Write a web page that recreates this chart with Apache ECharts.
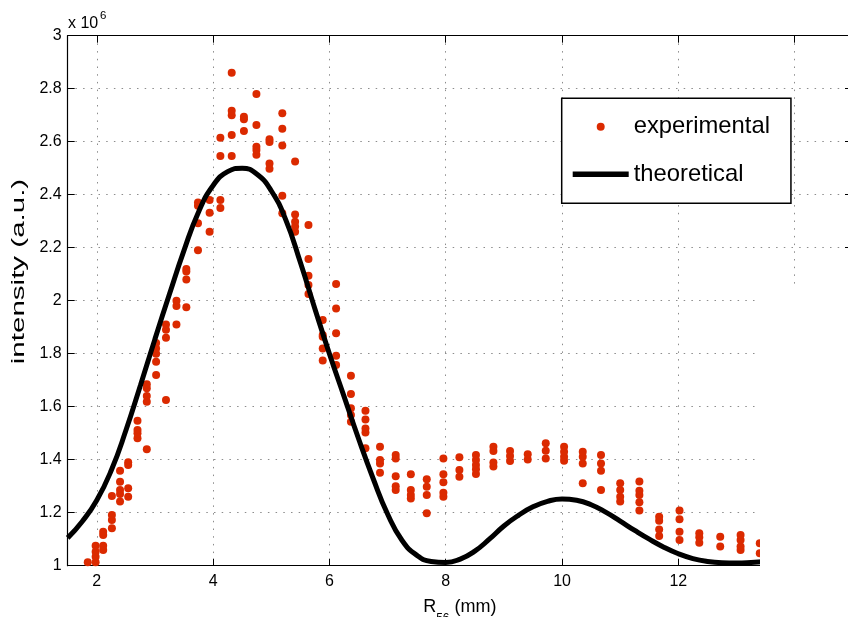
<!DOCTYPE html>
<html>
<head>
<meta charset="utf-8">
<script src="https://cdn.jsdelivr.net/npm/echarts@6/dist/echarts.min.js"></script>
<style>html,body{margin:0;padding:0;background:#fff}#chart{width:848px;height:617px}</style>
</head>
<body>
<div id="chart"></div>
<script>
// ---- data (intensity in units of 10^6) ----
const xTickValues = [2, 4, 6, 8, 10, 12, 14];
const yTickLabels = ['1', '1.2', '1.4', '1.6', '1.8', '2', '2.2', '2.4', '2.6', '2.8', '3'];

const expX = [
  1.845,
  1.98, 1.98, 1.98, 1.98,
  2.11, 2.11, 2.11, 2.11,
  2.26, 2.26, 2.26, 2.26,
  2.40, 2.40, 2.40, 2.40, 2.40,
  2.54, 2.54, 2.54, 2.54,
  2.70, 2.70, 2.70, 2.70,
  2.86, 2.86, 2.86, 2.86, 2.86,
  3.02, 3.02, 3.02, 3.02, 3.02,
  3.19, 3.19, 3.19, 3.19,
  3.37, 3.37, 3.37,
  3.54, 3.54, 3.54, 3.54,
  3.74, 3.74, 3.74, 3.74,
  3.94, 3.94, 3.94,
  4.125, 4.125, 4.125, 4.125,
  4.32, 4.32, 4.32, 4.32, 4.32,
  4.53, 4.53, 4.53,
  4.745, 4.745, 4.745, 4.745, 4.745,
  4.97, 4.97, 4.97, 4.97,
  5.19, 5.19, 5.19, 5.19, 5.19,
  5.41, 5.41, 5.41, 5.41, 5.41,
  5.64, 5.64, 5.64, 5.64, 5.64,
  5.885, 5.885, 5.885, 5.885, 5.885,
  6.115, 6.115, 6.115, 6.115, 6.115,
  6.37, 6.37, 6.37, 6.37, 6.37,
  6.62, 6.62, 6.62, 6.62, 6.62,
  6.87, 6.87, 6.87, 6.87,
  7.14, 7.14, 7.14, 7.14, 7.14,
  7.40, 7.40, 7.40, 7.40,
  7.674, 7.674, 7.674, 7.674,
  7.96, 7.96, 7.96, 7.96, 7.96,
  8.235, 8.235, 8.235,
  8.52, 8.52, 8.52, 8.52, 8.52,
  8.82, 8.82, 8.82, 8.82,
  9.106, 9.106, 9.106,
  9.41, 9.41,
  9.72, 9.72, 9.72,
  10.035, 10.035, 10.035, 10.035,
  10.356, 10.356, 10.356, 10.356,
  10.67, 10.67, 10.67, 10.67,
  11.0, 11.0, 11.0, 11.0,
  11.33, 11.33, 11.33, 11.33, 11.33,
  11.67, 11.67, 11.67, 11.67,
  12.02, 12.02, 12.02, 12.02,
  12.36, 12.36, 12.36,
  12.72, 12.72,
  13.07, 13.07, 13.07, 13.07,
  13.40, 13.40
];
const expY = [
  1.013,
  1.013, 1.034, 1.053, 1.075,
  1.059, 1.075, 1.116, 1.128,
  1.141, 1.172, 1.191, 1.263,
  1.242, 1.271, 1.286, 1.317, 1.358,
  1.26, 1.292, 1.38, 1.39,
  1.481, 1.50, 1.512, 1.547,
  1.439, 1.619, 1.64, 1.67, 1.685,
  1.72, 1.77, 1.80, 1.82, 1.84,
  1.625, 1.86, 1.89, 1.91,
  1.91, 1.98, 2.0,
  1.975, 2.08, 2.11, 2.12,
  2.19, 2.292, 2.358, 2.371,
  2.26, 2.332, 2.38,
  2.35, 2.38, 2.546, 2.615,
  2.546, 2.625, 2.70, 2.717, 2.86,
  2.64, 2.685, 2.694,
  2.551, 2.569, 2.581, 2.663, 2.78,
  2.498, 2.518, 2.599, 2.609,
  2.33, 2.396, 2.586, 2.649, 2.707,
  2.26, 2.28, 2.298, 2.325, 2.525,
  2.025, 2.059, 2.094, 2.157, 2.286,
  1.774, 1.82, 1.864, 1.871, 1.927,
  1.757, 1.792, 1.877, 1.971, 2.063,
  1.543, 1.569, 1.594, 1.648, 1.717,
  1.443, 1.503, 1.518, 1.552, 1.585,
  1.351, 1.386, 1.399, 1.449,
  1.286, 1.30, 1.338, 1.405, 1.418,
  1.254, 1.267, 1.286, 1.345,
  1.198, 1.267, 1.298, 1.326,
  1.26, 1.275, 1.315, 1.345, 1.405,
  1.336, 1.361, 1.409,
  1.346, 1.364, 1.38, 1.399, 1.418,
  1.374, 1.389, 1.433, 1.449,
  1.395, 1.414, 1.433,
  1.401, 1.421,
  1.405, 1.434, 1.462,
  1.396, 1.411, 1.43, 1.449,
  1.311, 1.386, 1.411, 1.43,
  1.286, 1.358, 1.386, 1.418,
  1.242, 1.26, 1.286, 1.311,
  1.208, 1.239, 1.267, 1.283, 1.318,
  1.112, 1.137, 1.17, 1.185,
  1.097, 1.128, 1.175, 1.208,
  1.087, 1.107, 1.122,
  1.072, 1.109,
  1.059, 1.072, 1.097, 1.116,
  1.047, 1.085
];

const theoryX = [1.5, 1.75, 2, 2.25, 2.5, 2.75, 3, 3.25, 3.5, 3.75, 4, 4.25, 4.5, 4.75, 5, 5.25, 5.5, 5.75,
  6, 6.25, 6.5, 6.75, 7, 7.25, 7.5, 7.75, 8, 8.25, 8.5, 8.75, 9, 9.25, 9.5, 9.75,
  10, 10.25, 10.5, 10.75, 11, 11.25, 11.5, 11.75, 12, 12.25, 12.5, 12.75, 13, 13.25, 13.5];
const theoryY = [1.105, 1.167, 1.247, 1.36, 1.51, 1.68, 1.855, 2.025, 2.19, 2.335, 2.435, 2.487, 2.5, 2.478, 2.415, 2.305, 2.145, 1.97,
  1.8, 1.64, 1.48, 1.33, 1.195, 1.095, 1.04, 1.016, 1.012, 1.025, 1.055, 1.1, 1.15, 1.19, 1.222, 1.243,
  1.252, 1.247, 1.23, 1.202, 1.168, 1.133, 1.1, 1.07, 1.045, 1.027, 1.016, 1.011, 1.01, 1.012, 1.016];

// ---- chart ----
const FONT = 'Liberation Sans, Arial, Helvetica, sans-serif';
const RED = '#db2a00';
const X_MIN = 1.5, X_MAX = 14.917;
const gridDots = { show: true, lineStyle: { color: '#8c8c8c', width: 1, type: [1.5, 6.2] } };

const chart = echarts.init(document.getElementById('chart'), null, { renderer: 'canvas' });
chart.setOption({
  animation: false,
  backgroundColor: '#fff',
  textStyle: { fontFamily: FONT },
  grid: { left: 67.7, top: 35.7, bottom: 51.3, right: 0, containLabel: false, outerBoundsMode: 'none' },
  xAxis: [{
    type: 'value', min: X_MIN, max: X_MAX, position: 'bottom',
    axisLine: { show: true, onZero: false, lineStyle: { color: '#000', width: 1.2 } },
    axisTick: { show: true, inside: true, length: 7, customValues: xTickValues, lineStyle: { color: '#000', width: 1 } },
    axisLabel: { show: true, margin: 8, customValues: xTickValues, color: '#000', fontSize: 16, fontFamily: FONT,
      formatter: v => String(v) },
    splitLine: gridDots,
    name: '{r|R}{s|56}{r| (mm)}', nameLocation: 'middle', nameGap: 32.5,
    nameTextStyle: {
      fontFamily: FONT, color: '#000', padding: [0, 0, 0, 4],
      rich: {
        r: { fontSize: 18, lineHeight: 18, verticalAlign: 'top', fontFamily: FONT, color: '#000' },
        s: { fontSize: 12, lineHeight: 12, padding: [14, 0, 0, 0], verticalAlign: 'top', fontFamily: FONT, color: '#000' }
      }
    }
  }, {
    type: 'value', min: X_MIN, max: X_MAX, position: 'top',
    axisLine: { show: true, onZero: false, lineStyle: { color: '#000', width: 1.2 } },
    axisTick: { show: true, inside: true, length: 7, customValues: xTickValues, lineStyle: { color: '#000', width: 1 } },
    axisLabel: { show: false },
    splitLine: { show: false }
  }],
  yAxis: [{
    type: 'value', min: 1, max: 3, interval: 0.2, position: 'left',
    axisLine: { show: true, onZero: false, lineStyle: { color: '#000', width: 1.2 } },
    axisTick: { show: true, inside: true, length: 7, lineStyle: { color: '#000', width: 1 } },
    axisLabel: { show: true, margin: 6, color: '#000', fontSize: 16, fontFamily: FONT,
      formatter: (v) => { const i = Math.round((v - 1) / 0.2); return yTickLabels[i]; } },
    splitLine: gridDots
  }, {
    type: 'value', min: 1, max: 3, interval: 0.2, position: 'right',
    axisLine: { show: false },
    axisTick: { show: true, inside: true, length: 3, lineStyle: { color: '#000', width: 1 } },
    axisLabel: { show: false },
    splitLine: { show: false }
  }],
  legend: {
    left: 561.7, top: 98.3, orient: 'vertical',
    itemWidth: 56, itemHeight: 8, itemGap: 19.6,
    padding: [14.4, 21, 15, 11],
    borderColor: '#000', borderWidth: 1.5, backgroundColor: '#fff',
    selectedMode: false,
    textStyle: { fontSize: 23.8, lineHeight: 28, color: '#000', fontFamily: FONT },
    data: [
      { name: 'experimental', icon: 'circle' },
      { name: 'theoretical', icon: 'path://M0,0L0.001,0M0,1.2H56V6.8H0Z M0,8L0.001,8' }
    ]
  },
  graphic: [
    { type: 'rect', z: 100, shape: { x: 760, y: 288, width: 100, height: 340 }, style: { fill: '#fff' } },
    { type: 'text', z: 100, x: 19, y: 271.5, rotation: Math.PI / 2, scaleX: 1.64, scaleY: 1,
      style: { text: 'intensity (a.u.)', font: '18px ' + FONT, fill: '#000', align: 'center', verticalAlign: 'middle' } },
    { type: 'text', z: 100, x: 68, y: 23.8,
      style: { text: 'x 10', font: '16px ' + FONT, fill: '#000', align: 'left', verticalAlign: 'middle' } },
    { type: 'text', z: 100, x: 100, y: 15.8,
      style: { text: '6', font: '11.5px ' + FONT, fill: '#000', align: 'left', verticalAlign: 'middle' } }
  ],
  series: [{
    name: 'experimental', type: 'scatter', xAxisIndex: 0, yAxisIndex: 0,
    symbol: 'circle', symbolSize: 8,
    itemStyle: { color: RED, opacity: 1 },
    data: expX.map((x, i) => [x, expY[i]])
  }, {
    name: 'theoretical', type: 'line', xAxisIndex: 0, yAxisIndex: 0,
    showSymbol: false, symbol: 'none', smooth: 0.5,
    lineStyle: { color: '#000', width: 5 },
    itemStyle: { color: '#000' },
    data: theoryX.map((x, i) => [x, theoryY[i]])
  }]
});
</script>
</body>
</html>
